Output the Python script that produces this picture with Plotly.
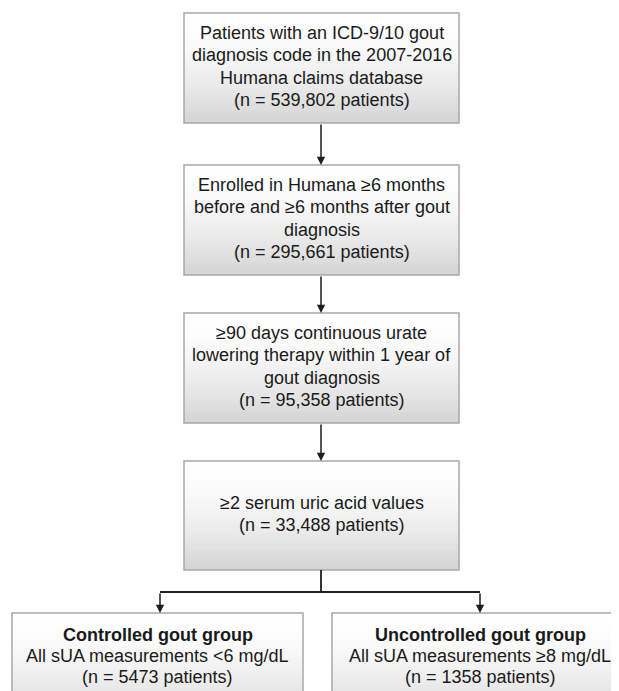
import plotly.graph_objects as go

# ---- data ----
box_titles = ["", "", "", "", "Controlled gout group", "Uncontrolled gout group"]
box_descriptions = [
    ["Patients with an ICD-9/10 gout", "diagnosis code in the 2007-2016", "Humana claims database"],
    ["Enrolled in Humana ≥6 months", "before and ≥6 months after gout", "diagnosis"],
    ["≥90 days continuous urate", "lowering therapy within 1 year of", "gout diagnosis"],
    ["≥2 serum uric acid values"],
    ["All sUA measurements <6 mg/dL"],
    ["All sUA measurements ≥8 mg/dL"],
]
patient_counts = ["539,802", "295,661", "95,358", "33,488", "5473", "1358"]

# layout geometry (page pixel coordinates)
box_x0 = [184, 184, 184, 184, 12, 332]
box_x1 = [459, 459, 459, 459, 303, 640]
box_y0 = [13, 165, 313, 461, 613, 613]
box_y1 = [123, 275, 423, 570, 735, 735]

W, H = 619, 691
OFF = 8  # page body margin
fig = go.Figure()
shapes = []
annotations = []
LINE = "#1e1e1e"
BORDER = "#a8a8a8"
TXT = "#1a1a1a"
FONT = "Liberation Sans, Arial"
FS = 18
LH = 22.2

N = 40
for i in range(len(box_x0)):
    x0, x1, y0, y1 = box_x0[i], box_x1[i], box_y0[i], box_y1[i]
    hgt = (y1 - y0) if i < 4 else 110
    for k in range(N):
        ya = y0 + k / N * hgt
        yb = y0 + (k + 1) / N * hgt + 0.6
        if ya > y1:
            break
        t = (k + 0.5) / N
        g = int(round(255 - 44 * (t ** 1.7)))
        c = f"rgb({g},{g},{g})"
        shapes.append(dict(type="rect", xref="x", yref="y", x0=x0, x1=x1, y0=ya, y1=min(yb, y1),
                           fillcolor=c, line=dict(width=0), layer="below"))
    shapes.append(dict(type="rect", xref="x", yref="y", x0=x0, x1=x1, y0=y0, y1=y1,
                       fillcolor="rgba(0,0,0,0)", line=dict(color=BORDER, width=1.5), layer="above"))

    lines = []
    if box_titles[i]:
        lines.append(f"<b>{box_titles[i]}</b>")
    lines += box_descriptions[i]
    lines.append(f"(n = {patient_counts[i]} patients)")
    n = len(lines)
    if i < 4:
        xc = (x0 + x1) / 2
        first = (y0 + y1) / 2 - 1.5 - (n - 1) / 2 * LH
        lh = LH
    else:
        xc = 157.5 if i == 4 else 480
        first = 635
        lh = 21
    for j, ln in enumerate(lines):
        annotations.append(dict(x=xc, y=first + j * lh, xref="x", yref="y", text=ln,
                                showarrow=False, align="center", xanchor="center", yanchor="middle",
                                font=dict(family=FONT, size=FS, color=TXT)))

# vertical arrows between main boxes
cx = 321
for i in range(3):
    annotations.append(dict(x=cx, y=box_y0[i + 1], ax=cx, ay=box_y1[i], xref="x", yref="y",
                            axref="x", ayref="y", text="", showarrow=True, arrowhead=2,
                            arrowsize=1.1, arrowwidth=1.5, arrowcolor=LINE, standoff=0, startstandoff=0))

# split connector
split_y = 592
shapes.append(dict(type="line", xref="x", yref="y", x0=cx, x1=cx, y0=box_y1[3], y1=split_y,
                   line=dict(color=LINE, width=1.8)))
shapes.append(dict(type="line", xref="x", yref="y", x0=160, x1=480, y0=split_y, y1=split_y,
                   line=dict(color=LINE, width=1.8)))
for xa in [160, 480]:
    annotations.append(dict(x=xa, y=box_y0[4], ax=xa, ay=split_y, xref="x", yref="y",
                            axref="x", ayref="y", text="", showarrow=True, arrowhead=2,
                            arrowsize=1.1, arrowwidth=1.5, arrowcolor=LINE, standoff=0, startstandoff=0))

fig.update_layout(
    width=W, height=H, margin=dict(l=0, r=0, t=0, b=0),
    paper_bgcolor="white", plot_bgcolor="white",
    xaxis=dict(range=[OFF, W + OFF], visible=False, fixedrange=True),
    yaxis=dict(range=[H + OFF, OFF], visible=False, fixedrange=True),
    shapes=shapes, annotations=annotations, showlegend=False,
)
fig.write_html("out.html")
